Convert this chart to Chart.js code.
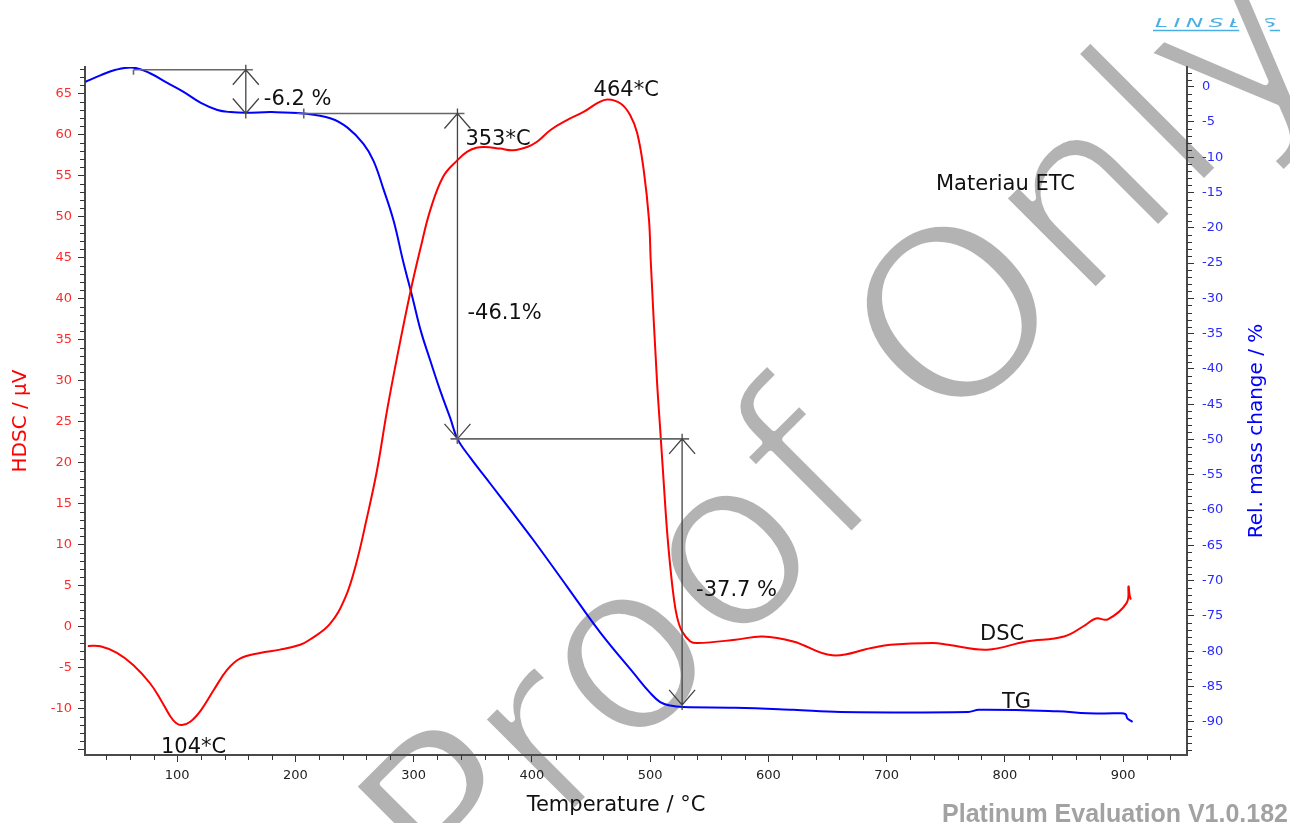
<!DOCTYPE html>
<html>
<head>
<meta charset="utf-8">
<title>Materiau ETC - DSC / TG</title>
<script src="https://cdn.jsdelivr.net/npm/chart.js@4.4.1/dist/chart.umd.min.js"></script>
<style>
  html, body { margin: 0; padding: 0; background: #fff; }
  #wrap { width: 1290px; height: 823px; position: relative; }
</style>
</head>
<body>
<div id="wrap"><canvas id="chart"></canvas></div>
<script>
// DSC signal (µV) vs temperature (°C)
const dscTemp = [24.4, 35, 49, 63, 77, 86, 94, 99, 104, 111, 120, 131, 142, 153, 170, 187, 204, 212, 229, 242, 251,
  260, 269, 277.5, 286, 297, 306, 314, 325, 337, 345, 353, 360, 373, 384, 396, 404, 416, 430, 444, 456,
  464, 475, 483, 489, 494.5, 499, 500.5, 505.7, 508.5, 511.3, 514.2, 517, 519.8, 522.7, 527, 534, 540, 572,
  595, 621, 654, 687, 703, 739, 752, 785, 818, 850, 868, 877, 887, 903, 904.5, 905.5, 906.5];
const dscSignal = [-2.35, -2.4, -3.2, -4.7, -6.9, -8.9, -10.9, -11.75, -12.0, -11.6, -10.2, -7.7, -5.3, -3.9, -3.2, -2.8, -2.2, -1.6, 0.3, 3.5, 7.5,
  13, 19.1, 26.4, 32.9, 40.7, 46.3, 50.8, 54.9, 56.9, 57.9, 58.4, 58.5, 58.3, 58.1, 58.5, 59.1, 60.6, 61.8, 62.8, 63.9,
  64.3, 63.8, 62.4, 60.2, 55.7, 49.6, 44.5, 30.1, 24.0, 17.9, 11.8, 7.3, 3.7, 1.2, -0.6, -1.8, -2.0, -1.6,
  -1.2, -1.8, -3.5, -2.6, -2.2, -2.0, -2.2, -2.8, -1.8, -1.2, 0.2, 1.0, 0.9, 2.9, 4.9, 3.8, 3.3];

// TG relative mass change (%) vs temperature (°C)
const tgTemp = [22.5, 35, 48, 63, 77, 92, 105, 120, 134, 145, 158, 180, 207, 230, 244, 257.5, 266, 274, 283, 291,
  299, 306, 314, 322.5, 331, 337, 348, 365, 382, 401, 430, 458, 486, 500, 508.5, 517, 528, 572, 621, 661,
  769, 778, 844, 870, 896, 902, 903.5, 908];
const tgMass = [0.7, 1.6, 2.4, 2.7, 1.9, 0.5, -0.7, -2.3, -3.3, -3.6, -3.7, -3.6, -3.8, -4.5, -5.8, -8.1, -10.5, -14.3, -19.0, -24.7,
  -29.9, -34.6, -38.8, -43.1, -47.0, -49.9, -52.6, -56.3, -60.0, -64.2, -70.9, -77.4, -83.1, -85.9, -87.2, -87.7, -87.9, -88.0, -88.3, -88.6,
  -88.6, -88.3, -88.5, -88.8, -88.8, -88.9, -89.5, -90.0];

// evaluated DSC peaks
const peakTemps = [104, 353, 464];
const peakLabels = ['104*C', '353*C', '464*C'];

// TG mass-loss steps
const stepStart = 2.4;
const stepChanges = [-6.2, -46.1, -37.7];
const stepTemps = [158, 337, 527];
const stepFromTemps = [63, 207, 337];
const stepLabels = ['-6.2 %', '-46.1%', '-37.7 %'];

// axis tick labels
const tempTicks = [100, 200, 300, 400, 500, 600, 700, 800, 900];

const FONT = '"DejaVu Sans", Verdana, sans-serif';
Chart.defaults.font.family = FONT;

const toPoints = (xs, ys) => xs.map((x, i) => ({ x, y: ys[i] }));

// logo and watermark underneath everything
const backdrop = {
  id: 'backdrop',
  beforeDraw(chart) {
    const ctx = chart.ctx;
    ctx.save();
    ctx.translate(1155, 27);
    ctx.scale(1.8, 1);
    ctx.font = 'italic 13px ' + FONT;
    ctx.letterSpacing = '3px';
    ctx.fillStyle = '#4aaee2';
    ctx.fillText('LINSEIS', 0, 0);
    ctx.restore();
    ctx.save();
    ctx.strokeStyle = '#4aaee2';
    ctx.lineWidth = 1.5;
    ctx.beginPath();
    ctx.moveTo(1153, 30.5);
    ctx.lineTo(1280, 30.5);
    ctx.stroke();
    ctx.restore();

    ctx.save();
    ctx.translate(460, 927);
    ctx.rotate(-Math.PI / 4);
    ctx.font = '240px ' + FONT;
    ctx.fillStyle = '#b3b3b3';
    ctx.fillText('Proof Only', 0, 0);
    // thin the glyph strokes a little
    ctx.strokeStyle = '#ffffff';
    ctx.lineWidth = 7;
    ctx.lineJoin = 'round';
    ctx.strokeText('Proof Only', 0, 0);
    ctx.restore();
  }
};

// small intermediate tick marks on all three axes
const minorTicks = {
  id: 'minorTicks',
  afterDraw(chart) {
    const { ctx, chartArea: a, scales } = chart;
    ctx.save();
    ctx.strokeStyle = '#333';
    ctx.lineWidth = 1;
    ctx.beginPath();
    for (let t = 40; t <= 940; t += 20) {
      if (t % 100 === 0) continue;
      const px = Math.round(scales.x.getPixelForValue(t)) + 0.5;
      ctx.moveTo(px, a.bottom);
      ctx.lineTo(px, a.bottom + 5);
    }
    for (let v = -15; v <= 68; v++) {
      if (v % 5 === 0) continue;
      const py = Math.round(scales.yDSC.getPixelForValue(v)) + 0.5;
      ctx.moveTo(a.left - 5, py);
      ctx.lineTo(a.left, py);
    }
    for (let v = -94; v <= 2; v++) {
      if (v % 5 === 0) continue;
      const py = Math.round(scales.yTG.getPixelForValue(v)) + 0.5;
      ctx.moveTo(a.right, py);
      ctx.lineTo(a.right + 5, py);
    }
    ctx.stroke();
    ctx.restore();
  }
};

// dimension arrows for the TG steps, peak temperatures, titles and free text
const annotations = {
  id: 'annotations',
  afterDatasetsDraw(chart) {
    const { ctx, scales } = chart;
    const x = scales.x, yTG = scales.yTG, yDSC = scales.yDSC;
    const labelDx = [18, 10, 14], labelDy = [13, 43, 24];
    ctx.save();
    ctx.font = '21px ' + FONT;
    ctx.fillStyle = '#111';

    let level = stepStart;
    stepChanges.forEach((chg, i) => {
      const xa = x.getPixelForValue(stepTemps[i]);
      const x0 = x.getPixelForValue(stepFromTemps[i]);
      const yt = yTG.getPixelForValue(level);
      const yb = yTG.getPixelForValue(level + chg);

      // reference level line
      ctx.strokeStyle = '#666';
      ctx.lineWidth = 1.6;
      ctx.beginPath();
      ctx.moveTo(i === 0 ? x0 : x0 - 7, yt);
      ctx.lineTo(xa + 7, yt);
      ctx.moveTo(x0, i === 0 ? yt : yt - 5);
      ctx.lineTo(x0, yt + 5);
      ctx.stroke();

      // double-headed arrow
      ctx.strokeStyle = '#444';
      ctx.lineWidth = 1.3;
      ctx.beginPath();
      ctx.moveTo(xa, yt - 5);
      ctx.lineTo(xa, yb + 5);
      ctx.moveTo(xa - 13, yt + 15); ctx.lineTo(xa, yt); ctx.lineTo(xa + 13, yt + 15);
      ctx.moveTo(xa - 13, yb - 15); ctx.lineTo(xa, yb); ctx.lineTo(xa + 13, yb - 15);
      ctx.stroke();

      ctx.fillText(stepLabels[i], xa + labelDx[i], (yt + yb) / 2 + labelDy[i]);
      level += chg;
    });

    // peak temperatures on the DSC curve
    const peakDx = [-21, -11, -14], peakDy = [28, -3, -3];
    peakTemps.forEach((t, i) => {
      const v = dscSignal[dscTemp.indexOf(t)];
      const px = x.getPixelForValue(t), py = yDSC.getPixelForValue(v);
      ctx.fillText(peakLabels[i], px + peakDx[i], py + peakDy[i]);
    });

    ctx.fillText('Materiau ETC', 936, 190);
    ctx.fillText('DSC', 980, 640);
    ctx.fillText('TG', 1002, 708);
    ctx.restore();
  },
  afterDraw(chart) {
    const ctx = chart.ctx;
    ctx.save();
    ctx.font = '21px ' + FONT;
    ctx.fillStyle = '#111';
    ctx.textAlign = 'center';
    ctx.fillText('Temperature / °C', 616, 811);

    ctx.textBaseline = 'middle';
    ctx.font = '20px ' + FONT;
    ctx.save();
    ctx.translate(21, 421);
    ctx.rotate(-Math.PI / 2);
    ctx.fillStyle = '#ff0000';
    ctx.fillText('HDSC / µV', 0, 0);
    ctx.restore();
    ctx.save();
    ctx.translate(1257, 431);
    ctx.rotate(-Math.PI / 2);
    ctx.fillStyle = '#0000ff';
    ctx.fillText('Rel. mass change / %', 0, 0);
    ctx.restore();

    ctx.textAlign = 'right';
    ctx.textBaseline = 'alphabetic';
    ctx.font = 'bold 25px "Liberation Sans", Arial, sans-serif';
    ctx.fillStyle = '#a2a2a2';
    ctx.fillText('Platinum Evaluation V1.0.182', 1288, 822);
    ctx.restore();
  }
};

const axisBorder = { display: true, color: '#4a4a4a', width: 2 };
const tickGrid = { display: true, drawOnChartArea: false, drawTicks: true, tickLength: 7, tickColor: '#333', tickWidth: 1 };

new Chart(document.getElementById('chart'), {
  type: 'line',
  data: {
    datasets: [
      {
        label: 'DSC',
        data: toPoints(dscTemp, dscSignal),
        yAxisID: 'yDSC',
        borderColor: '#ff0000',
        borderWidth: 2,
        pointRadius: 0,
        tension: 0.4
      },
      {
        label: 'TG',
        data: toPoints(tgTemp, tgMass),
        yAxisID: 'yTG',
        borderColor: '#0000ff',
        borderWidth: 2,
        pointRadius: 0,
        tension: 0.4
      }
    ]
  },
  options: {
    responsive: true,
    maintainAspectRatio: false,
    devicePixelRatio: 1,
    animation: false,
    layout: { padding: { top: 67, left: 0, right: 0, bottom: 0 } },
    plugins: { legend: { display: false }, tooltip: { enabled: false } },
    scales: {
      x: {
        type: 'linear',
        min: 22,
        max: 954,
        afterFit: s => { s.height = 68; },
        afterBuildTicks: s => { s.ticks = tempTicks.map(v => ({ value: v })); },
        border: axisBorder,
        grid: tickGrid,
        ticks: { color: '#222', font: { size: 13 }, padding: 6, maxRotation: 0, autoSkip: false }
      },
      yDSC: {
        type: 'linear',
        position: 'left',
        min: -15.65,
        max: 68.25,
        afterFit: s => { s.width = 85; },
        border: axisBorder,
        grid: tickGrid,
        ticks: {
          stepSize: 5,
          includeBounds: false,
          color: '#ff2a2a',
          font: { size: 13 },
          padding: 6,
          callback: v => (v === -15 ? '' : v)
        }
      },
      yTG: {
        type: 'linear',
        position: 'right',
        min: -94.7,
        max: 2.79,
        afterFit: s => { s.width = 103; },
        border: axisBorder,
        grid: tickGrid,
        ticks: { stepSize: 5, includeBounds: false, color: '#2a2aff', font: { size: 13 }, padding: 8 }
      }
    }
  },
  plugins: [backdrop, minorTicks, annotations]
});
</script>
</body>
</html>
